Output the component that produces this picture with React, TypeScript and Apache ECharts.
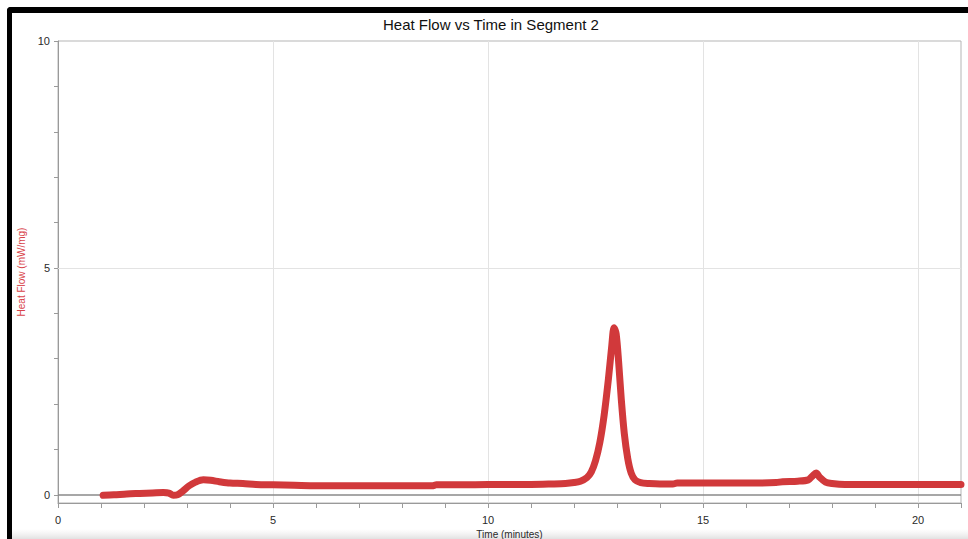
import React, { useEffect, useRef } from "react";
import * as echarts from "echarts";

const TITLE = "Heat Flow vs Time in Segment 2";
const X_NAME = "Time (minutes)";
const Y_NAME = "Heat Flow (mW/mg)";

const timeMinutes = [
  1.05, 1.3, 1.6, 1.9, 2.2, 2.45, 2.58, 2.68, 2.78, 2.9, 3.05, 3.2, 3.38, 3.55, 3.75, 4.0, 4.3, 4.6, 5.0, 5.5,
  6.0, 7.0, 8.0, 8.7, 8.8, 9.5, 10.5, 11.0, 11.5, 11.8, 12.0, 12.15, 12.3, 12.4, 12.5, 12.6, 12.7, 12.8, 12.88,
  12.93, 12.98, 13.04, 13.1, 13.17, 13.25, 13.33, 13.42, 13.55, 13.75, 14.0, 14.3, 14.4, 15.0, 16.0, 16.7,
  16.85, 17.2, 17.45, 17.55, 17.63, 17.72, 17.85, 18.0, 18.3, 19.0, 20.0, 21.0,
];
const heatFlow = [
  -0.01, 0.0, 0.02, 0.03, 0.04, 0.05, 0.04, -0.01, 0.0, 0.08, 0.2, 0.28, 0.33, 0.32, 0.29, 0.26, 0.25, 0.23, 0.22,
  0.21, 0.2, 0.2, 0.2, 0.2, 0.22, 0.22, 0.23, 0.23, 0.24, 0.25, 0.27, 0.3, 0.38, 0.5, 0.75, 1.15, 1.75, 2.55, 3.3,
  3.68, 3.55, 2.9, 2.1, 1.35, 0.8, 0.48, 0.33, 0.27, 0.25, 0.24, 0.24, 0.26, 0.26, 0.26, 0.27, 0.29, 0.3, 0.33,
  0.42, 0.48, 0.38, 0.28, 0.25, 0.23, 0.23, 0.23, 0.23,
];

const yTickValues = [0, 1, 2, 3, 4, 5, 6, 7, 8, 9, 10];
const yLabelValues = [0, 5, 10];
const xGridValues = [5, 10, 15, 20];
const yGridValues = [5];

const FONT = "'Liberation Sans', Arial, Helvetica, sans-serif";

export default function App() {
  const ref = useRef<HTMLDivElement>(null);
  useEffect(() => {
    if (!ref.current) return;
    const chart = echarts.init(ref.current, null, { renderer: "svg" });
    const data = timeMinutes.map((t, i) => [t, heatFlow[i]]);
    chart.setOption({
      animation: false,
      backgroundColor: "#ffffff",
      textStyle: { fontFamily: FONT },
      title: {
        text: TITLE,
        left: 383,
        top: 17,
        padding: 0,
        textStyle: { fontSize: 15, fontWeight: "normal", color: "#111", fontFamily: FONT },
      },
      grid: {
        left: 58,
        width: 903,
        top: 41,
        height: 462,
        outerBoundsMode: "none",
        containLabel: false,
        show: true,
        borderColor: "#b5b5b5",
        borderWidth: 1,
        backgroundColor: "#ffffff",
      },
      xAxis: {
        type: "value",
        min: 0,
        max: 21,
        interval: 1,
        name: X_NAME,
        nameLocation: "middle",
        nameGap: 26,
        nameTextStyle: { fontSize: 10, color: "#2a2a2a", fontFamily: FONT },
        axisLine: { show: true, onZero: false, lineStyle: { color: "#9a9a9a", width: 1 } },
        axisTick: { show: true, length: 5, lineStyle: { color: "#9a9a9a" } },
        axisLabel: {
          fontSize: 11,
          color: "#2a2a2a",
          margin: 11,
          formatter: (v: number) => (v % 5 === 0 && v <= 20 ? String(v) : ""),
        },
        splitLine: { show: false },
      },
      yAxis: {
        type: "value",
        min: -0.18,
        max: 10,
        name: Y_NAME,
        nameLocation: "middle",
        nameGap: 32,
        nameTextStyle: { fontSize: 10, color: "#d9434a", fontFamily: FONT },
        axisLine: { show: true, onZero: false, lineStyle: { color: "#9a9a9a", width: 1 } },
        axisTick: { show: true, length: 4, customValues: yTickValues, lineStyle: { color: "#9a9a9a" } },
        axisLabel: { fontSize: 11, color: "#2a2a2a", margin: 8, customValues: yLabelValues },
        splitLine: { show: false },
      },
      graphic: [
        { type: "rect", shape: { x: 7, y: 7, width: 961, height: 6, r: [4, 0, 0, 0] }, style: { fill: "#000" }, z: 100 },
        { type: "rect", shape: { x: 7, y: 7, width: 5, height: 532, r: [4, 0, 0, 0] }, style: { fill: "#000" }, z: 100 },
        {
          type: "rect",
          shape: { x: 12, y: 529, width: 956, height: 10 },
          style: {
            fill: new echarts.graphic.LinearGradient(0, 0, 0, 1, [
              { offset: 0, color: "rgba(235,235,235,0)" },
              { offset: 1, color: "rgba(225,225,225,1)" },
            ]),
          },
          z: 0,
        },
      ],
      series: [
        {
          type: "line",
          data,
          showSymbol: false,
          smooth: 0.3,
          z: 3,
          lineStyle: { color: "#d1393b", width: 7, cap: "round", join: "round" },
          markLine: {
            silent: true,
            symbol: "none",
            z: 1,
            label: { show: false },
            data: [
              ...xGridValues.map((v) => ({ xAxis: v, lineStyle: { color: "#e3e3e3", width: 1, type: "solid" } })),
              ...yGridValues.map((v) => ({ yAxis: v, lineStyle: { color: "#e3e3e3", width: 1, type: "solid" } })),
              { yAxis: 0, lineStyle: { color: "#8a8a8a", width: 1.5, type: "solid" } },
            ],
          },
        },
      ],
    });
    return () => chart.dispose();
  }, []);
  return <div ref={ref} style={{ position: "absolute", left: 0, top: 0, width: 968, height: 539 }} />;
}
